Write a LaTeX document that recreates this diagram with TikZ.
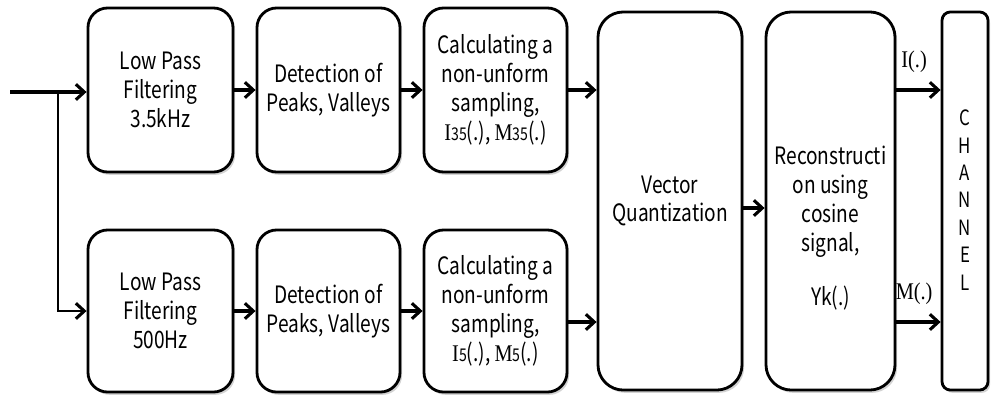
\documentclass[tikz,border=0pt]{standalone}
\usepackage{fontspec}
\setmainfont[FakeStretch=0.8]{Noto Sans CJK KR}
\newfontfamily\serifsym[FakeStretch=0.85]{Liberation Serif}
\usetikzlibrary{arrows.meta,shadows}

\newcommand{\idx}[2]{{\serifsym #1}{\fontsize{12.5}{12.5}\selectfont #2}}

\begin{document}
\begin{tikzpicture}[x=0.025cm, y=-0.025cm, font=\fontsize{17}{20.5}\selectfont,
  box/.style={draw, line width=2pt, rounded corners=14pt, fill=white, align=center,
    drop shadow={opacity=0.35, shadow xshift=1.5pt, shadow yshift=-2pt}},
  arr/.style={line width=2.4pt, -{Straight Barb[length=6pt, width=11pt, line width=2.2pt]}}]
\useasboundingbox (0,0) rectangle (997,397);

% upper branch
\node [box, minimum width=3.625cm, minimum height=4.1cm] (lpfa) at (160.5,90) {Low Pass\\Filtering\\3.5kHz};
\node [box, minimum width=3.575cm, minimum height=4.1cm] (deta) at (328.5,90) {Detection of\\Peaks, Valleys};
\node [box, minimum width=3.575cm, minimum height=4.1cm] (calca) at (495.5,90) {Calculating a\\non-unform\\sampling,\\\idx{I}{35}(.), \idx{M}{35}(.)};

% lower branch
\node [box, minimum width=3.625cm, minimum height=4.05cm] (lpfb) at (160.5,311) {Low Pass\\Filtering\\500Hz};
\node [box, minimum width=3.575cm, minimum height=4.05cm] (detb) at (328.5,311) {Detection of\\Peaks, Valleys};
\node [box, minimum width=3.575cm, minimum height=4.05cm] (calcb) at (495.5,311) {Calculating a\\non-unform\\sampling,\\\idx{I}{5}(.), \idx{M}{5}(.)};

% tall blocks
\node [box, rounded corners=18pt, minimum width=3.6cm, minimum height=9.45cm] (vq) at (670,201) {Vector\\Quantization};
\node [box, rounded corners=18pt, minimum width=3.225cm, minimum height=9.45cm] (rec) at (830.5,201) {};
\node [align=center] (rectxt) at (830.5,228) {Reconstructi\\on using\\cosine\\signal,\\[18pt]Yk(.)};
\node [box, rounded corners=6pt, minimum width=1.15cm, minimum height=9.45cm] (chan) at (965,201) {};
\node [align=center, font=\fontsize{15}{19.5}\selectfont] (chantxt) at (965,200) {C\\H\\A\\N\\N\\E\\L};

% input and split
\coordinate (in) at (10,92);
\coordinate (split) at (58,92);
\draw [arr] (in) -- (lpfa.west |- in);
\draw [line width=1.4pt, -{Straight Barb[length=6pt, width=11pt, line width=2.2pt]}] (split) |- (lpfb.west);

\draw [arr] (lpfa) -- (deta);
\draw [arr] (deta) -- (calca);
\draw [arr] (calca) -- (calca -| vq.west);
\draw [arr] (lpfb) -- (detb);
\draw [arr] (detb) -- (calcb);
\draw [arr] (calcb.east |- 0,322) -- (vq.west |- 0,322);
\draw [arr] (vq.east |- 0,208) -- (rec.west |- 0,208);

% outputs to channel
\draw [arr] (rec.east |- 0,90) -- (chan.west |- 0,90) node [pos=0.4, above=8pt] (iout) {\serifsym I(.)};
\draw [arr] (rec.east |- 0,322) -- (chan.west |- 0,322) node [pos=0.4, above=8pt] (mout) {\serifsym M(.)};
\end{tikzpicture}
\end{document}
